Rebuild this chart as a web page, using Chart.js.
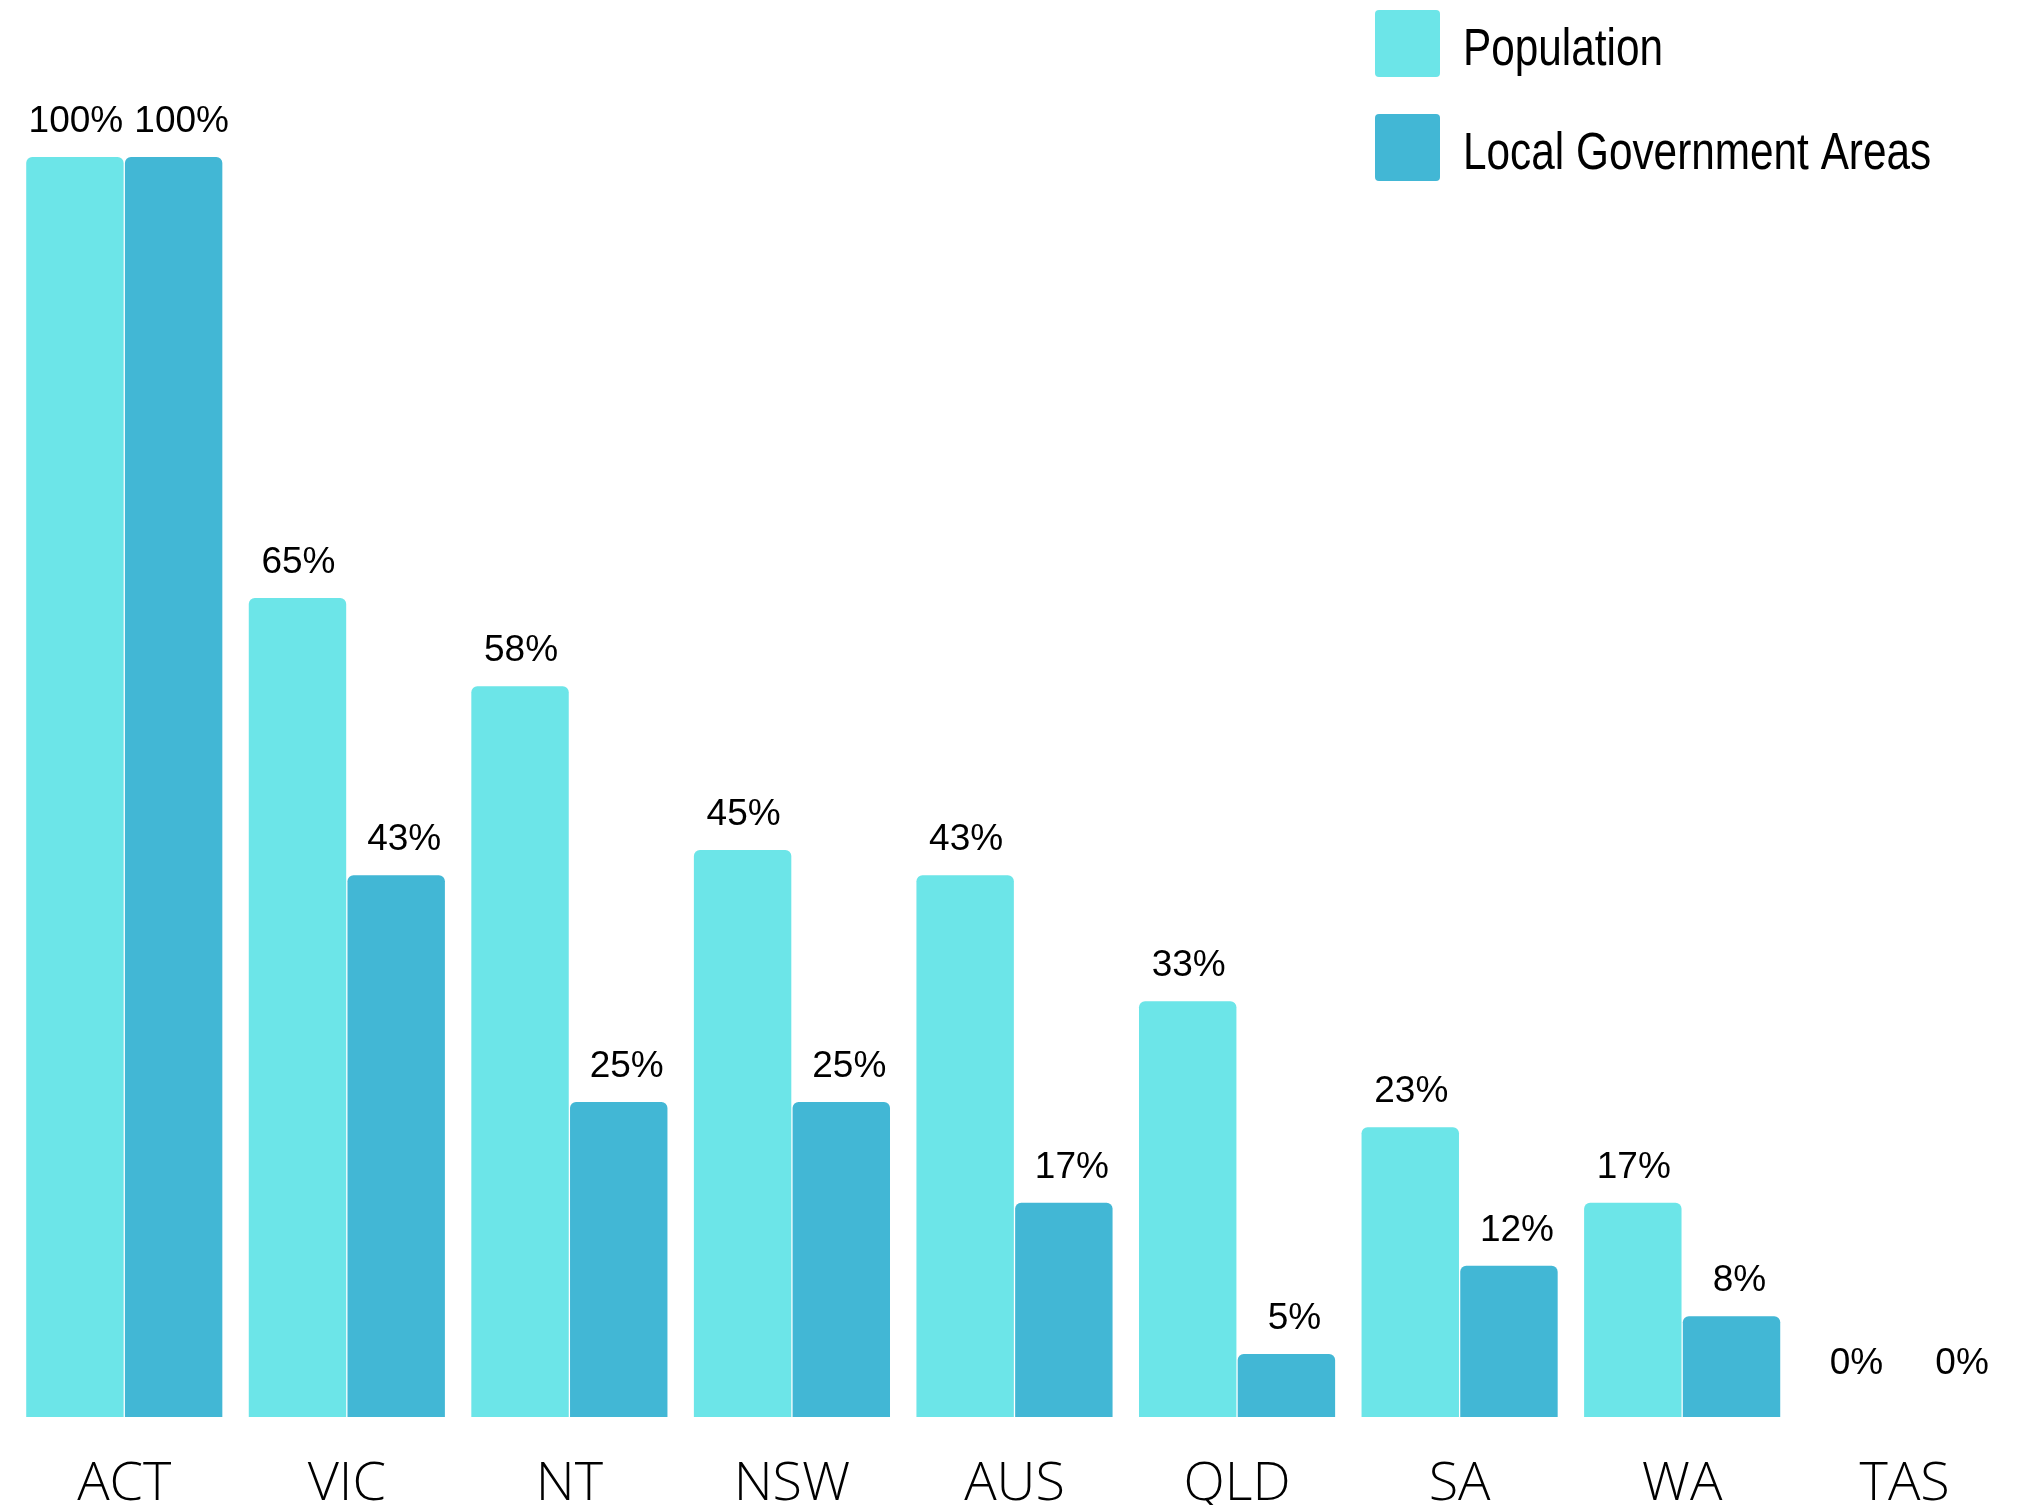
<!DOCTYPE html>
<html lang="en">
<head>
<meta charset="utf-8">
<title>Population and Local Government Areas by state</title>
<script src="https://cdn.jsdelivr.net/npm/chart.js@4.4.1/dist/chart.umd.min.js"></script>
<style>
    html, body { margin: 0; padding: 0; background: #ffffff; }
    #wrap { position: relative; width: 2036px; height: 1505px; }
</style>
</head>
<body>
<div id="wrap"><canvas id="grafico"></canvas></div>
<script>
// --- Dados ---
const estados = ['ACT', 'VIC', 'NT', 'NSW', 'AUS', 'QLD', 'SA', 'WA', 'TAS'];
const populacao = [100, 65, 58, 45, 43, 33, 23, 17, 0];
const areasLocais = [100, 43, 25, 25, 17, 5, 12, 8, 0];
const nomesSeries = ['Population', 'Local Government Areas'];

// --- Cores ---
const corPopulacao = '#6ce5e8';
const corAreas = '#42b7d5';

// Deslocamento horizontal dos rótulos por série (px)
const deslocRotulo = [1, 8];

/**
 * Desenha os rótulos de porcentagem acima de cada barra.
 */
const rotulosPlugin = {
    id: 'rotulos',
    afterDatasetsDraw(chart) {
        const ctx = chart.ctx;
        ctx.save();
        ctx.font = '37px "Liberation Sans", Arial, sans-serif';
        ctx.fillStyle = '#000000';
        ctx.textAlign = 'center';
        ctx.textBaseline = 'middle';
        chart.data.datasets.forEach((ds, i) => {
            const meta = chart.getDatasetMeta(i);
            meta.data.forEach((bar, j) => {
                // barras vazias: rótulo fica um pouco mais alto
                const y = Math.min(bar.y - 35, bar.base - 53);
                ctx.fillText(ds.data[j] + '%', bar.x + deslocRotulo[i], y);
            });
        });
        ctx.restore();
    }
};

/**
 * Legenda desenhada no canto superior direito, por cima da área do gráfico.
 */
const legendaPlugin = {
    id: 'legenda',
    afterDraw(chart) {
        const ctx = chart.ctx;
        ctx.save();
        chart.data.datasets.forEach((ds, i) => {
            const y = 10 + i * 104;
            ctx.fillStyle = ds.backgroundColor;
            ctx.beginPath();
            ctx.roundRect(1375, y, 65, 67, 4);
            ctx.fill();

            // texto estreito: fonte normal comprimida na horizontal
            ctx.save();
            ctx.translate(1463, y + 41);
            ctx.scale(0.83, 1);
            ctx.fillStyle = '#000000';
            ctx.font = '51px "Liberation Sans", Arial, sans-serif';
            ctx.textAlign = 'left';
            ctx.textBaseline = 'middle';
            ctx.fillText(ds.label, 0, 0);
            ctx.restore();
        });
        ctx.restore();
    }
};

const ctxGrafico = document.getElementById('grafico').getContext('2d');

new Chart(ctxGrafico, {
    type: 'bar',
    data: {
        labels: estados,
        datasets: [
            { label: nomesSeries[0], data: populacao, backgroundColor: corPopulacao },
            { label: nomesSeries[1], data: areasLocais, backgroundColor: corAreas }
        ]
    },
    options: {
        responsive: true,
        maintainAspectRatio: false,
        animation: false,
        layout: { padding: { left: 13, right: 20, top: 0, bottom: 0 } },
        datasets: {
            bar: {
                categoryPercentage: 0.887,
                barPercentage: 0.987,
                borderRadius: { topLeft: 6, topRight: 6 },
                borderSkipped: 'start'
            }
        },
        scales: {
            x: {
                grid: { display: false },
                border: { display: false },
                ticks: {
                    color: '#000000',
                    padding: 27,
                    font: { family: '"Open Sans", sans-serif', size: 54, weight: 300 }
                },
                afterFit: (scale) => { scale.height = 88; }
            },
            y: {
                display: false,
                min: 0,
                max: 112.46
            }
        },
        plugins: {
            legend: { display: false },
            tooltip: { enabled: false }
        }
    },
    plugins: [rotulosPlugin, legendaPlugin]
});
</script>
</body>
</html>
